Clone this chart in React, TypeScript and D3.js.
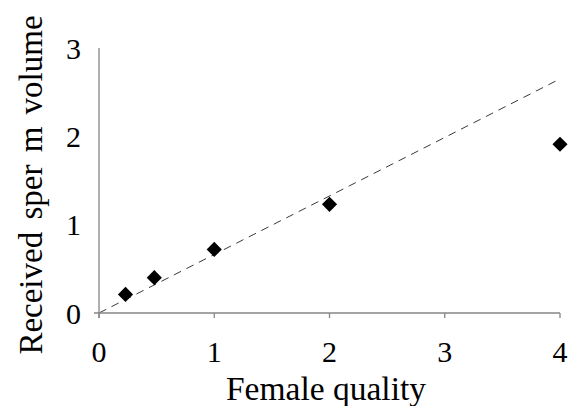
import React from "react";
import * as d3 from "d3";

const xValues = [0.23, 0.48, 1, 2, 4];
const yValues = [0.21, 0.4, 0.72, 1.23, 1.91];
const fitX = [0, 4];
const fitY = [0, 2.65];
const xTicks = [0, 1, 2, 3, 4];
const yTicks = [0, 1, 2, 3];
const xTitle = "Female quality";
const yTitle = "Received sper m volume";

const W = 571;
const H = 406;
const FONT = "Liberation Serif, Times New Roman, Tinos, DejaVu Serif, serif";

export default function App() {
  const x = d3.scaleLinear().domain([0, 4]).range([99, 560]);
  const y = d3.scaleLinear().domain([0, 3]).range([313, 48]);
  const axisColor = "#868686";
  const line = d3
    .line<number>()
    .x((d) => x(d))
    .y((_, i) => y(fitY[i]));
  const sym = d3.symbol(d3.symbolSquare, 115)();

  return (
    <svg
      width={W}
      height={H}
      style={{ position: "absolute", left: 0, top: 0, background: "#fff", fontFamily: FONT }}
    >
      <rect width={W} height={H} fill="#fff" />
      <path
        d={line(fitX) || ""}
        fill="none"
        stroke="#3a3a3a"
        strokeWidth={1}
        strokeDasharray="8,6"
      />
      <line x1={x(0)} x2={x(0)} y1={y(3)} y2={y(0) + 5} stroke={axisColor} strokeWidth={1.3} />
      <line x1={x(0) - 5} x2={x(4)} y1={y(0)} y2={y(0)} stroke={axisColor} strokeWidth={1.3} />
      {xTicks.map((t) => (
        <line key={"xt" + t} x1={x(t)} x2={x(t)} y1={y(0)} y2={y(0) + 5} stroke={axisColor} strokeWidth={1.3} />
      ))}
      {xValues.map((v, i) => (
        <path
          key={"p" + i}
          d={sym || ""}
          transform={`translate(${x(v)},${y(yValues[i])}) rotate(45)`}
          fill="#000"
        />
      ))}
      {yTicks.map((t) => (
        <text
          key={"yl" + t}
          x={81}
          y={y(t)}
          dy="0.35em"
          textAnchor="end"
          fontSize={30}
          fill="#000"
        >
          {t}
        </text>
      ))}
      {xTicks.map((t) => (
        <text
          key={"xl" + t}
          x={x(t)}
          y={362}
          textAnchor="middle"
          fontSize={30}
          fill="#000"
        >
          {t}
        </text>
      ))}
      <text
        x={326}
        y={400}
        textAnchor="middle"
        fontSize={33.5}
        fill="#000"
      >
        {xTitle}
      </text>
      <text
        transform={`translate(42,185) rotate(-90)`}
        textAnchor="middle"
        fontSize={33}
        wordSpacing={4}
        fill="#000"
      >
        {yTitle}
      </text>
    </svg>
  );
}
